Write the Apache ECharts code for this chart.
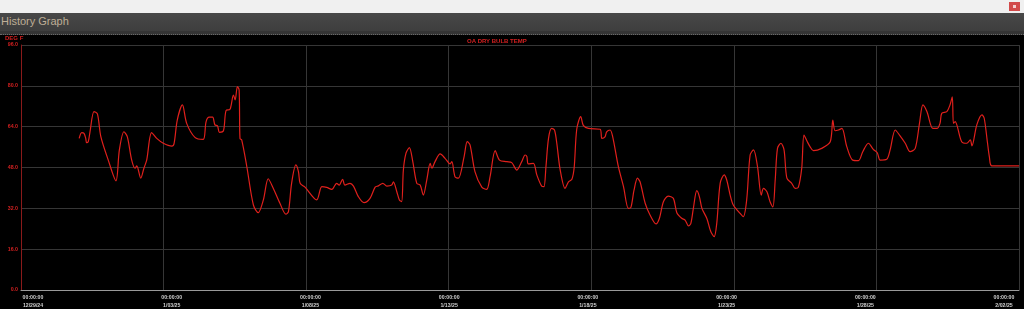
<!DOCTYPE html>
<html>
<head>
<meta charset="utf-8">
<script src="https://cdn.jsdelivr.net/npm/echarts@6/dist/echarts.min.js"></script>
<style>
html,body{margin:0;padding:0;width:1024px;height:309px;overflow:hidden;background:#000;font-family:"Liberation Sans",Arial,sans-serif;}
#top{position:absolute;left:0;top:0;width:1024px;height:13px;background:#f0f0f0;}
#close{position:absolute;left:1009px;top:2px;width:11px;height:9px;background:#d24a4a;}
#close i{position:absolute;left:4px;top:3px;width:3px;height:3px;background:#f3d0d0;}
#hdr{position:absolute;left:0;top:13px;width:1024px;height:18px;background:linear-gradient(#484848,#3e3e3e);}
#hdr span{position:absolute;left:1px;top:2px;font-size:11px;color:#bfae96;}
#sub{position:absolute;left:0;top:31px;width:1024px;height:3px;background:#353535;border-bottom:1px dotted #6a6a6a;}
#chart{position:absolute;left:0;top:35px;width:1024px;height:274px;background:#000;}
</style>
</head>
<body>
<div id="top"><div id="close"><i></i></div></div>
<div id="hdr"><span>History Graph</span></div>
<div id="sub"></div>
<div id="chart"></div>
<script>
// Time in days since 12/29/24 00:00, temperature in DEG F
const days = [2.04,2.13,2.21,2.27,2.30,2.36,2.42,2.56,2.68,2.80,3.06,3.33,3.45,3.61,3.73,3.88,4.00,4.06,4.20,4.31,4.41,4.58,4.76,4.99,5.29,5.37,5.48,5.66,5.81,6.10,6.39,6.49,6.60,6.72,6.80,6.89,6.96,7.10,7.19,7.33,7.45,7.51,7.59,7.65,7.68,7.74,7.92,8.15,8.32,8.50,8.67,8.85,9.08,9.29,9.38,9.49,9.64,9.73,9.79,9.96,10.37,10.55,10.72,10.90,11.07,11.16,11.28,11.36,11.54,11.66,11.83,12.03,12.24,12.42,12.53,12.69,12.83,13.00,13.06,13.18,13.27,13.35,13.41,13.50,13.62,13.74,13.88,14.00,14.11,14.23,14.35,14.41,14.52,14.70,14.87,15.05,15.11,15.22,15.34,15.54,15.65,15.75,15.92,16.16,16.33,16.45,16.63,16.78,17.04,17.21,17.39,17.56,17.68,17.74,17.79,17.97,18.09,18.26,18.34,18.41,18.50,18.61,18.71,18.79,18.91,19.08,19.20,19.32,19.40,19.49,19.63,19.72,19.90,20.31,20.37,20.48,20.54,20.66,20.75,20.95,21.13,21.30,21.39,21.50,21.62,21.71,21.89,22.06,22.27,22.39,22.53,22.70,22.88,23.00,23.17,23.29,23.41,23.49,23.58,23.70,23.79,23.88,24.05,24.19,24.31,24.40,24.52,24.66,24.75,24.87,24.98,25.22,25.33,25.45,25.57,25.69,25.83,25.96,26.04,26.16,26.27,26.37,26.45,26.53,26.65,26.76,26.86,27.03,27.15,27.26,27.38,27.46,27.58,27.67,27.79,28.08,28.38,28.47,28.55,28.67,28.79,28.96,29.17,29.37,29.52,29.72,29.89,30.03,30.13,30.36,30.48,30.66,30.81,31.01,31.18,31.36,31.51,31.63,31.77,31.98,32.12,32.23,32.29,32.47,32.58,32.66,32.70,32.76,32.99,33.17,33.29,33.35,33.52,33.70,33.78,33.89,33.96,34.05,35.00];
const temps = [59.4,61.7,61.4,59.4,57.7,58.2,62,69.9,69,60.1,50.9,42.8,54.9,62,60,51,47.7,48.6,43.8,47.7,51,61.7,59.4,57.5,56.4,57.5,66.6,72.5,65.3,59.8,59,65.9,67.7,67.7,64.7,64.3,61.8,62.4,70.3,70.8,76.4,74.5,79.7,78.4,59.4,58.8,48.3,33.3,30.3,35.3,43.6,39.8,34,29.7,30.7,41.8,49,46.4,41.8,40.3,35.3,40.5,40.2,39.4,41.8,41.1,43.4,41.1,41.8,40.7,36.6,34.2,35.9,40.3,40.8,41.8,40.7,41.1,42.4,38.5,35.3,34.6,47,53.5,55.8,50.3,41.8,41.1,37.2,43.1,49.6,47.7,50.3,53.3,51.6,49.4,50.3,44.4,43.8,52.3,58.1,56.8,46.4,40.3,39.4,44.4,54.6,50.9,50.3,49.9,47,50.3,52.9,52.3,49.4,49.6,45.1,40.7,40.5,48.3,59.4,63.3,62.7,57.5,47,39.8,42.4,43.4,48,63,67.9,64.5,63.3,63,59.4,60,62,62.7,60.1,48.3,40.5,32,32.4,39.2,43.8,42.4,34,29.4,25.9,28.1,34.6,36.8,35.9,30.3,28.1,27.4,25.1,26,32,38.9,36.6,32,28.1,22.9,20.9,26.1,41.8,45.1,43.1,37.2,33.3,30,28.7,35.3,52.9,54.9,48.3,37.2,39.8,38.5,34.6,32.6,43.1,55.5,57.5,54.9,43.8,41.8,39.8,40.2,47.7,60.7,58,56.2,54.6,55.5,58.1,66.6,62.4,62.7,63.3,56.2,50.9,50.7,54.2,57.5,55.1,53.8,50.9,51.2,54.9,62.7,60.7,57.5,54.2,55.5,65.3,72.5,69.9,63.3,63.3,65.3,69.2,69.9,72.5,75.7,65.3,66,58.1,57.5,58.8,56.5,64.7,68.6,67.3,58.1,52.3,48.6,48.6];
const tickTimes = ["00:00:00","00:00:00","00:00:00","00:00:00","00:00:00","00:00:00","00:00:00","00:00:00"];
const tickDates = ["12/29/24","1/03/25","1/08/25","1/13/25","1/18/25","1/23/25","1/28/25","2/02/25"];
const yTitle = "DEG F";
const seriesName = "OA DRY BULB TEMP";

const chart = echarts.init(document.getElementById('chart'), null, {renderer:'canvas'});
chart.setOption({
  backgroundColor:'#000',
  animation:false,
  title:{text:seriesName, left:467, top:3, padding:0, textStyle:{color:'#d42020', fontSize:6, fontWeight:'bold', fontFamily:'Liberation Sans'}},
  graphic:[{type:'text', left:5, top:0, style:{text:yTitle, fill:'#d42020', font:'bold 6px "Liberation Sans"'}}],
  grid:[
    {left:21, right:5, top:10, bottom:19},
    {left:33, right:20, top:10, bottom:19}
  ],
  xAxis:[
    {type:'value', gridIndex:0, min:0, max:35, interval:5,
     axisLine:{lineStyle:{color:'#9a9a9a', width:1}}, axisTick:{show:false},
     axisLabel:{show:false},
     splitLine:{show:true, lineStyle:{color:'#363636', width:1}}},
    {type:'value', gridIndex:1, min:0, max:7, interval:1,
     axisLine:{show:false}, axisTick:{show:false}, splitLine:{show:false},
     axisLabel:{show:true, color:'#cfcfcf', fontSize:5.2, fontWeight:'bold', fontFamily:'Liberation Sans', lineHeight:7.5, margin:4,
       formatter:function(v){const i=Math.round(v);return tickTimes[i]+'\n'+tickDates[i];}}}
  ],
  yAxis:[
    {type:'value', gridIndex:0, min:0, max:96, interval:16,
     axisLine:{show:true, lineStyle:{color:'#8a1a1a', width:1}}, axisTick:{show:false},
     axisLabel:{color:'#d42020', fontSize:5.3, fontWeight:'bold', fontFamily:'Liberation Sans', margin:3,
       formatter:function(v){return v.toFixed(1);}},
     splitLine:{show:true, lineStyle:{color:'#363636', width:1}}},
    {type:'value', gridIndex:1, min:0, max:96, show:false}
  ],
  series:[{
    type:'line', xAxisIndex:0, yAxisIndex:0, name:seriesName,
    data: days.map((d,i)=>[d,temps[i]]),
    showSymbol:false, symbol:'none', smooth:0.3,
    lineStyle:{color:'#e0201c', width:1.2},
    z:5
  }]
});
</script>
</body>
</html>
